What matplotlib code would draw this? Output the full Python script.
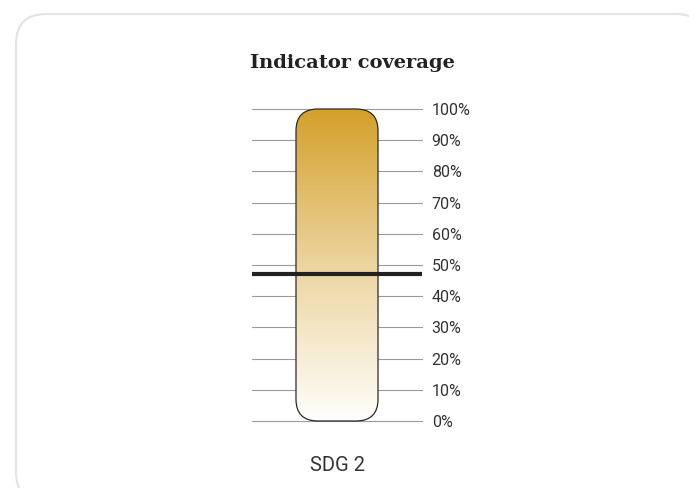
import numpy as np
import matplotlib
matplotlib.use("Agg")
import matplotlib.pyplot as plt
from matplotlib.patches import FancyBboxPatch
from matplotlib.colors import LinearSegmentedColormap

# dados
categories = ["SDG 2"]
bar_full = [100]          # escala completa da barra
coverage = [47]           # linha de cobertura
ticks = list(range(0, 101, 10))
tick_labels = [f"{t}%" for t in ticks]

fig = plt.figure(figsize=(6.89, 4.88), dpi=100)

# cartão de fundo com cantos arredondados
card = FancyBboxPatch((0.16, -0.14), 6.9, 4.88, boxstyle="round,pad=0,rounding_size=0.3",
                      transform=fig.dpi_scale_trans, facecolor="white",
                      edgecolor="#e4e4e4", linewidth=1.6, zorder=-10)
fig.patches.append(card)

ax = fig.add_axes([252 / 689, (488 - 421) / 488, 170 / 689, 312 / 488])
ax.set_zorder(5)
ax.set_facecolor("none")
ax.set_xlim(-0.829, 0.829)
ax.set_ylim(0, 100)

for t in ticks:
    ax.axhline(t, color="#9a9a9a", lw=0.8, zorder=1, clip_on=False)

width = 0.8
for i, (cat, v) in enumerate(zip(categories, bar_full)):
    x0 = i - width / 2
    rx = 0.215
    asp = 7.0 / rx
    box = FancyBboxPatch((x0, 0), width, v, boxstyle=f"round,pad=0,rounding_size={rx}",
                         mutation_aspect=asp, facecolor="none", edgecolor="#2b2b2b",
                         linewidth=0.9, zorder=3, clip_on=False)
    ax.add_patch(box)
    cmap = LinearSegmentedColormap.from_list("gold", ["#fffefb", "#ecd49f", "#d4a02a"])
    grad = np.linspace(0, 1, 256).reshape(-1, 1)
    im = ax.imshow(grad, cmap=cmap, aspect="auto", origin="lower",
                   extent=(x0, x0 + width, 0, v), zorder=2)
    im.set_clip_path(box)

for c in coverage:
    ax.axhline(c, color="#222222", lw=3.0, zorder=4)

ax.set_xlim(-0.829, 0.829)
ax.set_ylim(0, 100)

ax.yaxis.tick_right()
ax.set_yticks(ticks)
ax.set_yticklabels(tick_labels, fontfamily="Roboto", fontsize=11.5, color="#333333")
ax.tick_params(axis="y", length=0, pad=7)
ax.set_xticks(range(len(categories)))
ax.set_xticklabels(categories, fontfamily="Roboto", fontsize=14.5, color="#333333")
ax.tick_params(axis="x", length=0, pad=25)
for s in ax.spines.values():
    s.set_visible(False)

fig.text(352 / 689, 1 - 63 / 488, "Indicator coverage", ha="center", va="center",
         fontfamily="DejaVu Serif", fontweight="bold", fontsize=14, color="#222222")

fig.savefig("out.png", dpi=100)
